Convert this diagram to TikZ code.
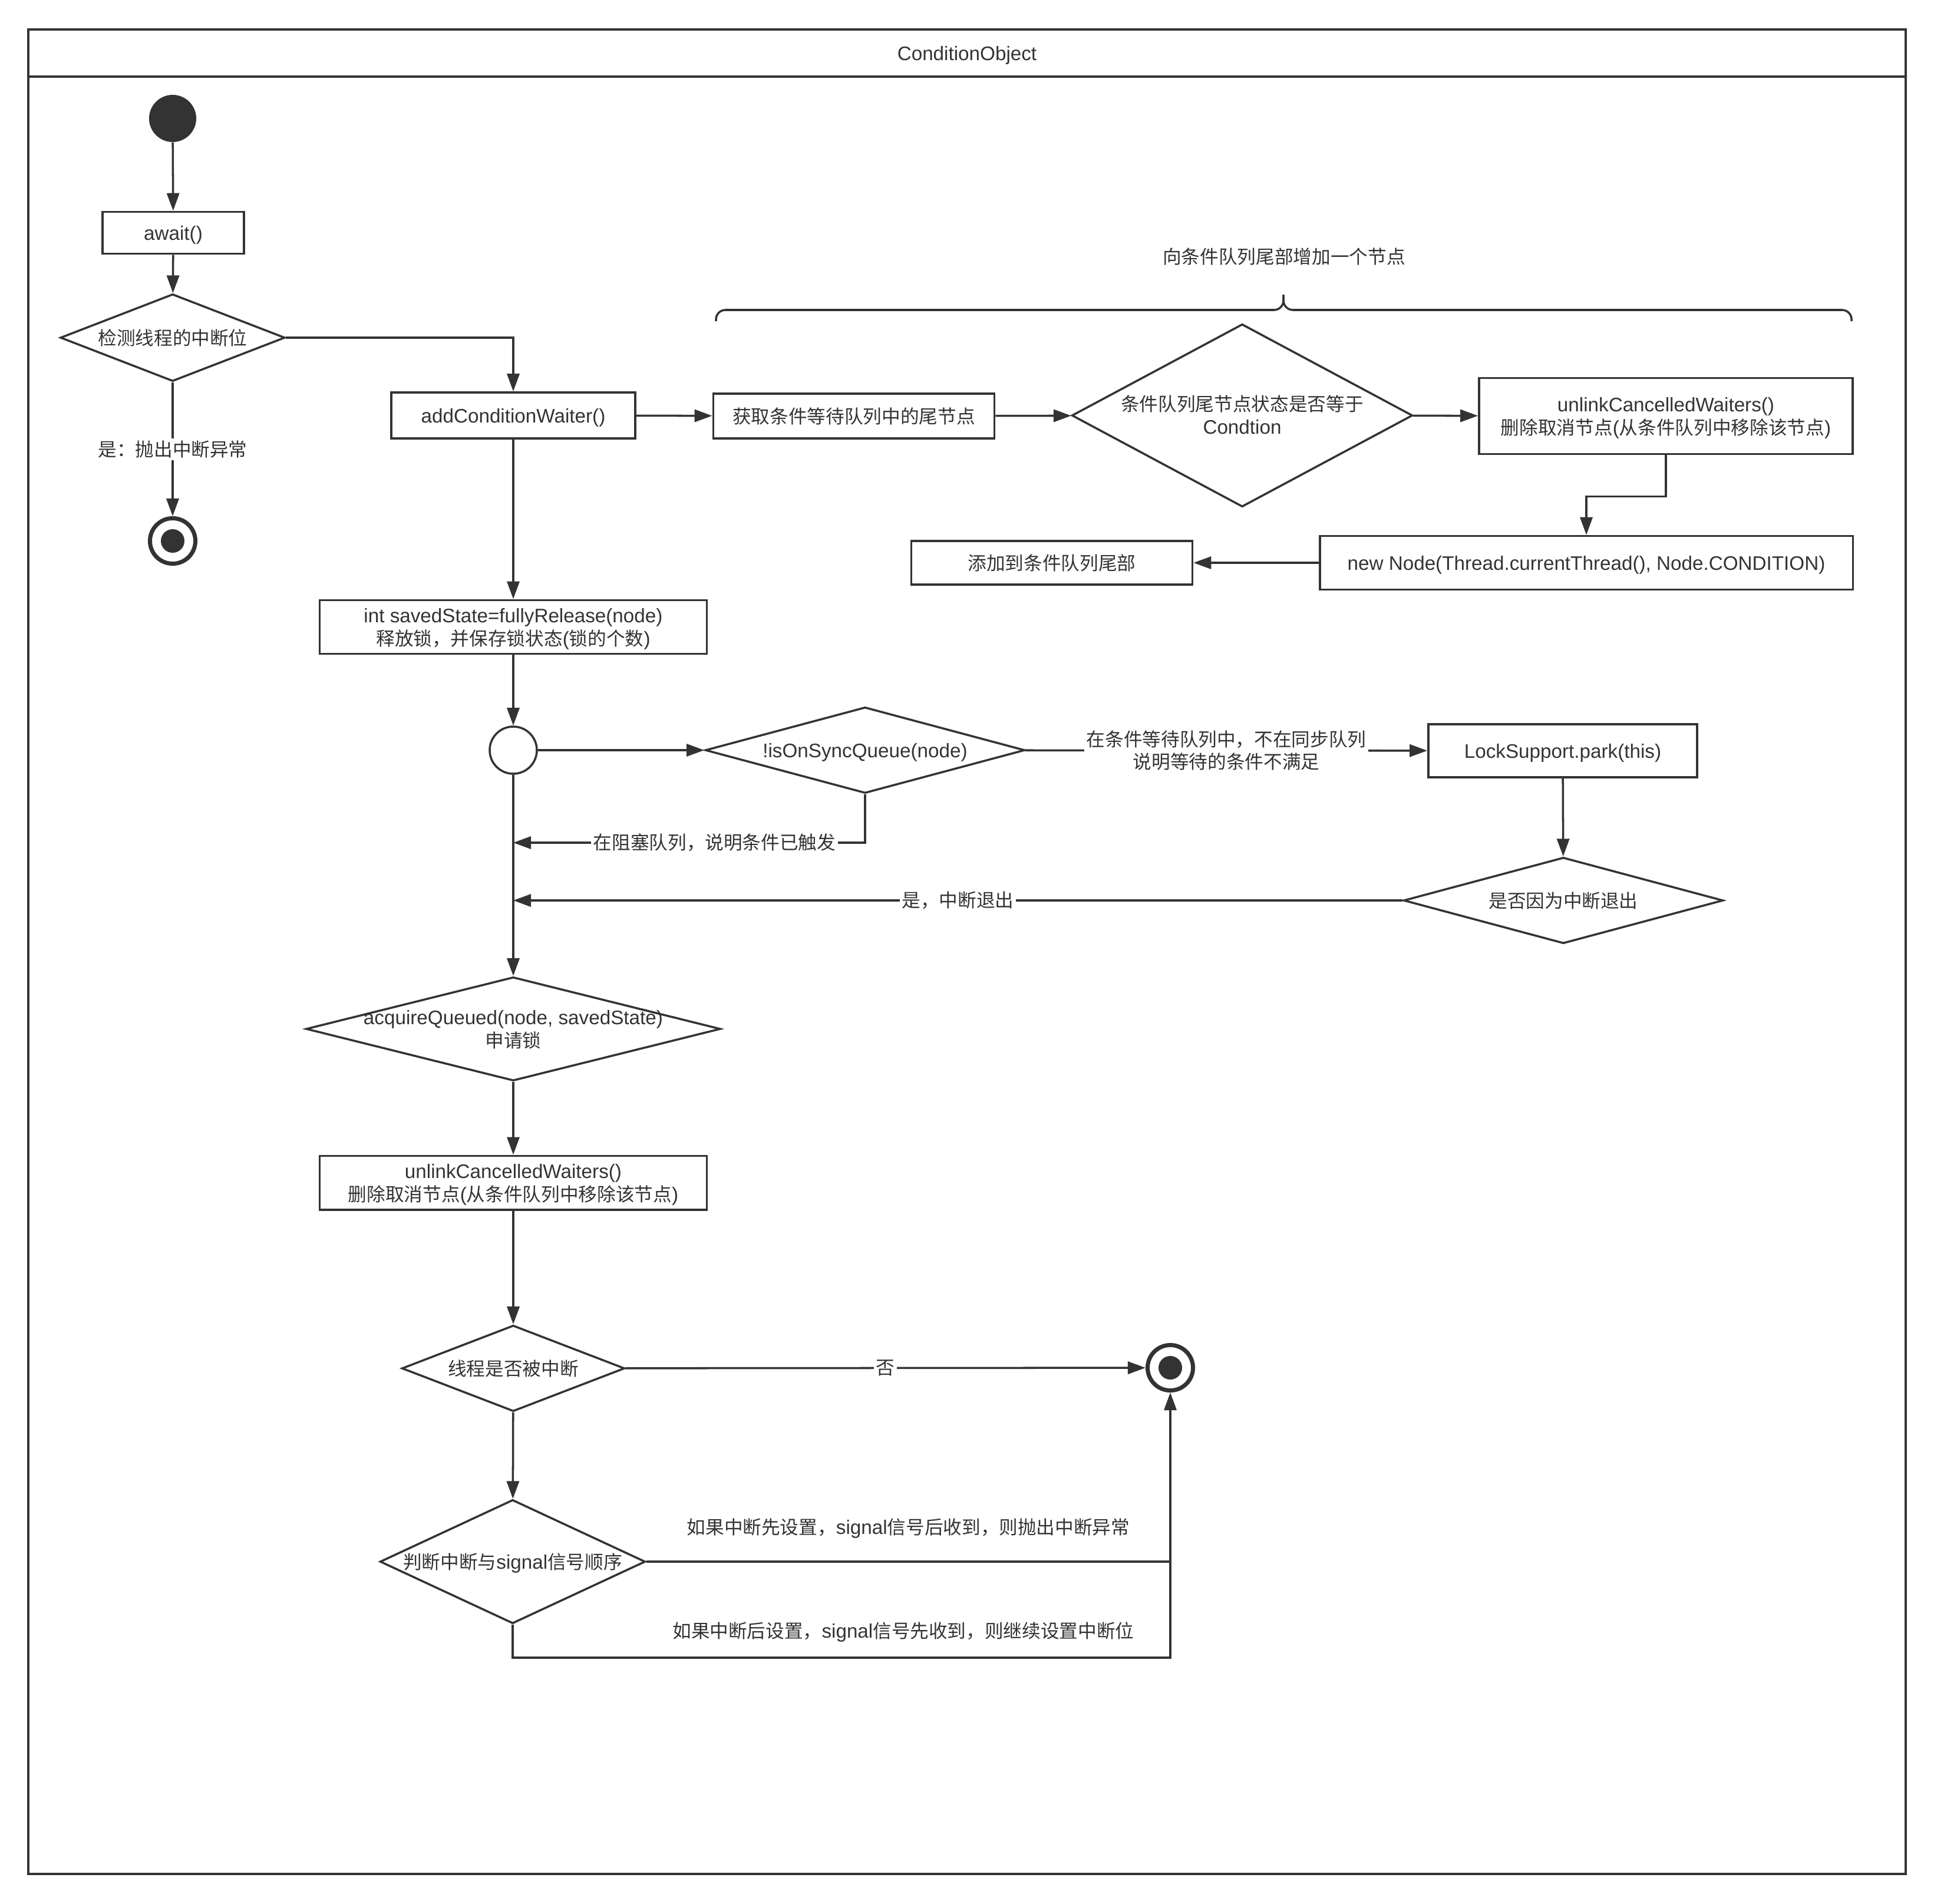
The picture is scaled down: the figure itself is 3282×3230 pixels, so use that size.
\documentclass[tikz,border=0pt]{standalone}
\usepackage{fontspec}
\setmainfont{Liberation Sans}[Scale=1.05]
\newfontfamily\cjk{Noto Sans CJK SC}
\newcommand\zh[1]{{\cjk #1}}
\newcommand\btxt[1]{\raisebox{-1.3pt}[\height][\depth]{\begin{tabular}{@{}c@{}}#1\end{tabular}}}
\newcommand\dtxt[1]{\makebox[0pt]{\btxt{#1}}}
\usetikzlibrary{arrows.meta,shapes.geometric}
\definecolor{ink}{RGB}{51,51,51}

\begin{document}
\begin{tikzpicture}[
    x=0.01cm, y=-0.01cm,
    every node/.style={font=\fontsize{9}{11}\selectfont, text=ink},
    line/.style={draw=ink, line width=1pt},
    box/.style={line, rectangle, align=center, inner sep=2pt},
    cond/.style={line, diamond, inner sep=0pt, aspect=1},
    startdot/.style={circle, fill=ink, inner sep=0pt, minimum size=0.80cm},
    enddot/.style={circle, draw=ink, line width=0.07cm, inner sep=0pt, minimum size=0.77cm,
                   path picture={\fill[ink] (path picture bounding box.center) circle (0.2cm);}},
    joint/.style={line, circle, inner sep=0pt, minimum size=0.80cm},
    arr/.style={line, -{Triangle[length=0.30cm, width=0.21cm]}},
    lbl/.style={fill=white, inner sep=1pt, align=center}
  ]
  \useasboundingbox (0,0) rectangle (3282,3230);
  % frame and title
  \draw[line] (48,50) rectangle (3234,3180);
  \draw[line] (48,130) -- (3234,130);
  \node (title) at (1641,90) {\btxt{ConditionObject}};

  % entry
  \node[startdot] (start) at (293,201) {};
  \node[box, minimum width=2.40cm, minimum height=0.71cm] (await) at (294,395) {\btxt{await()}};
  \node[cond, minimum width=3.81cm, minimum height=1.48cm] (chk) at (293,573) {\dtxt{\zh{检测线程的中断位}}};
  \node[enddot] (end1) at (293,918) {};

  % add a waiter to the condition queue
  \node[box, minimum width=4.14cm, minimum height=0.78cm] (addw) at (871,705) {\btxt{addConditionWaiter()}};
  \node[box, minimum width=4.77cm, minimum height=0.76cm] (tail) at (1449,706) {\btxt{\zh{获取条件等待队列中的尾节点}}};
  \node[cond, minimum width=5.78cm, minimum height=3.10cm] (cmp) at (2108,705) {\dtxt{\zh{条件队列尾节点状态是否等于}\\Condtion}};
  \node[box, minimum width=6.34cm, minimum height=1.29cm] (unl1) at (2827,706) {\btxt{unlinkCancelledWaiters()\\\zh{删除取消节点}(\zh{从条件队列中移除该节点})}};
  \node[box, minimum width=9.04cm, minimum height=0.91cm] (newn) at (2692,955) {\btxt{new Node(Thread.currentThread(), Node.CONDITION)}};
  \node[box, minimum width=4.77cm, minimum height=0.74cm] (addq) at (1785,955) {\btxt{\zh{添加到条件队列尾部}}};
  \draw[line, rounded corners=0.16cm] (1215,545) |- (2178,526) -- (2178,500);
  \draw[line, rounded corners=0.16cm] (3142,545) |- (2178,526) -- (2178,500);
  \node (brace) at (2179,435) {\zh{向条件队列尾部增加一个节点}};

  % release and park
  \node[box, minimum width=6.57cm, minimum height=0.90cm] (rel) at (871,1064) {\btxt{int savedState=fullyRelease(node)\\\zh{释放锁，并保存锁状态}(\zh{锁的个数})}};
  \node[joint] (jn) at (871,1273) {};
  \node[cond, minimum width=5.42cm, minimum height=1.46cm] (sync) at (1468,1273) {\dtxt{!isOnSyncQueue(node)}};
  \node[box, minimum width=4.56cm, minimum height=0.90cm] (park) at (2652,1274) {\btxt{LockSupport.park(this)}};
  \node[cond, minimum width=5.42cm, minimum height=1.46cm] (intr) at (2653,1528) {\dtxt{\zh{是否因为中断退出}}};
  \coordinate (back) at (871,1430);

  % reacquire
  \node[cond, minimum width=7.03cm, minimum height=1.76cm] (acq) at (871,1746) {\dtxt{acquireQueued(node, savedState)\\\zh{申请锁}}};
  \node[box, minimum width=6.57cm, minimum height=0.88cm] (unl2) at (871,2007) {\btxt{unlinkCancelledWaiters()\\\zh{删除取消节点}(\zh{从条件队列中移除该节点})}};
  \node[cond, minimum width=3.78cm, minimum height=1.46cm] (intd) at (871,2322) {\dtxt{\zh{线程是否被中断}}};
  \node[enddot] (end2) at (1986,2321) {};
  \node[cond, minimum width=4.50cm, minimum height=2.10cm] (ord) at (870,2650) {\dtxt{\zh{判断中断与}signal\zh{信号顺序}}};
  \coordinate (ordbase) at (1986,2813);

  % connectors
  \draw[arr] (start) -- (await);
  \draw[arr] (await) -- (chk);
  \draw[arr] (chk.east) -| (addw.north);
  \draw[arr] (chk) -- node[lbl] {\zh{是：抛出中断异常}} (end1);
  \draw[arr] (addw) -- (tail);
  \draw[arr] (tail) -- (cmp);
  \draw[arr] (cmp) -- (unl1);
  \draw[arr] (unl1.south) -- ++(0,70) -| (newn.north);
  \draw[arr] (newn) -- (addq);
  \draw[arr] (addw) -- (rel);
  \draw[arr] (rel) -- (jn);
  \draw[arr] (jn) -- (sync);
  \draw[arr] (sync) -- node[lbl] {\zh{在条件等待队列中，不在同步队列}\\\zh{说明等待的条件不满足}} (park);
  \draw[arr] (park) -- (intr);
  \draw[arr] (sync.south) |- node[lbl, pos=0.714] {\zh{在阻塞队列，说明条件已触发}} (back);
  \draw[arr] (intr.west) -- node[lbl] {\zh{是，中断退出}} (intr.west -| jn);
  \draw[arr] (jn) -- (acq);
  \draw[arr] (acq) -- (unl2);
  \draw[arr] (unl2) -- (intd);
  \draw[arr] (intd) -- node[lbl] {\zh{否}} (end2);
  \draw[arr] (intd) -- (ord);
  \draw[line] (ord.east) -- node[yshift=0.59cm] {\btxt{\zh{如果中断先设置，}signal\zh{信号后收到，则抛出中断异常}}} (ord.east -| end2);
  \draw[arr] (ord.south) |- node[pos=0.797, yshift=0.46cm] {\btxt{\zh{如果中断后设置，}signal\zh{信号先收到，则继续设置中断位}}} (ordbase) -- (end2);
\end{tikzpicture}
\end{document}
